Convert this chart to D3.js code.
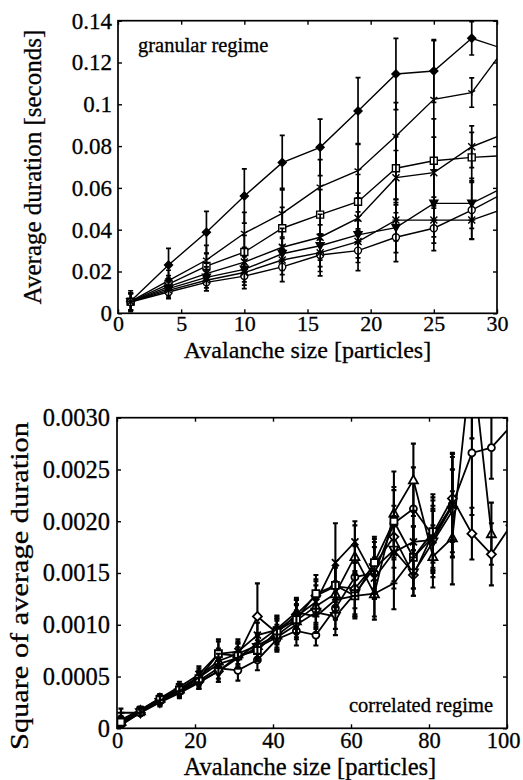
<!DOCTYPE html>
<html>
<head>
<meta charset="utf-8">
<script src="https://cdn.jsdelivr.net/npm/d3@7"></script>
<style>
body { margin:0; background:#fff; }
text { font-family:"Liberation Serif","Times New Roman",serif; fill:#000; stroke:#000; stroke-width:0.3px; }
</style>
</head>
<body>
<div id="vis"></div>
<script>
// ---- top panel: granular regime ----
var sizesTop   = [1,4,7,10,13,16,19,22,25,28,31];
var durDiamond = [0.0058,0.0231,0.0388,0.0561,0.0721,0.0794,0.0968,0.1145,0.1159,0.1316,0.1256];
var durWye     = [0.0057,0.0156,0.0255,0.0383,0.0478,0.0605,0.0682,0.0848,0.1024,0.1056,0.1300];
var durSquare  = [0.0056,0.0140,0.0226,0.0293,0.0407,0.0472,0.0534,0.0694,0.0730,0.0746,0.0756];
var durCross   = [0.0055,0.0128,0.0190,0.0245,0.0316,0.0364,0.0455,0.0649,0.0673,0.0797,0.0869];
var durTriDown = [0.0055,0.0118,0.0172,0.0210,0.0285,0.0323,0.0375,0.0410,0.0526,0.0526,0.0617];
var durCircle  = [0.0054,0.0102,0.0148,0.0178,0.0222,0.0279,0.0300,0.0364,0.0407,0.0494,0.0590];
var durStar    = [0.0055,0.0110,0.0158,0.0195,0.0255,0.0290,0.0343,0.0446,0.0446,0.0446,0.0510];

var errDiamond = [0.005,0.008,0.010,0.013,0.013,0.0135,0.016,0.017,0.015,0.008,0.008];
var errWye     = [0.004,0.005,0.007,0.010,0.012,0.013,0.013,0.016,0.028,0.007,0.008];
var errSquare  = [0.004,0.004,0.006,0.008,0.010,0.012,0.013,0.015,0.020,0.012,0.012];
var errCross   = [0.004,0.004,0.005,0.007,0.009,0.011,0.012,0.013,0.017,0.010,0.010];
var errTriDown = [0.004,0.004,0.005,0.006,0.008,0.010,0.011,0.012,0.016,0.012,0.012];
var errCircle  = [0.004,0.003,0.004,0.006,0.007,0.010,0.0096,0.0117,0.0107,0.014,0.012];
var errStar    = [0.004,0.004,0.005,0.006,0.007,0.009,0.010,0.010,0.011,0.009,0.010];

var topXTicks  = [0,5,10,15,20,25,30];
var topYTicks  = [0,0.02,0.04,0.06,0.08,0.1,0.12,0.14];
var topYLabels = ["0","0.02","0.04","0.06","0.08","0.1","0.12","0.14"];

// ---- bottom panel: correlated regime ----
var sizesBot  = [1,6,11,16,21,26,31,36,41,46,51,56,61,66,71,76,81,86,91,96,101];
var sqCircle  = [0.00005,0.00016,0.00027,0.00036,0.00046,0.00058,0.00056,0.00066,0.00086,0.00094,0.00090,0.00116,0.00146,0.00150,0.00198,0.00212,0.00186,0.00216,0.00266,0.00271,0.00292];
var sqTriUp   = [0.00007,0.00017,0.00029,0.00038,0.00050,0.00065,0.00072,0.00080,0.00090,0.00104,0.00118,0.00130,0.00166,0.00130,0.00208,0.00240,0.00166,0.00184,0.00360,0.00188,null];
var sqDiamond = [0.00003,0.00015,0.00026,0.00035,0.00045,0.00055,0.00070,0.00108,0.00092,0.00110,0.00128,0.00137,0.00135,0.00158,0.00185,0.00148,0.00188,0.00222,0.00188,0.00168,0.00196];
var sqTriDown = [0.00004,0.00015,0.00025,0.00034,0.00044,0.00055,0.00068,0.00078,0.00088,0.00100,0.00112,0.00108,0.00130,0.00155,0.00172,0.00150,0.00180,0.00210,null,null,null];
var sqCross   = [0.00008,0.00018,0.00029,0.00040,0.00052,0.00072,0.00074,0.00090,0.00095,0.00108,0.00122,0.00160,0.00180,0.00145,0.00170,0.00180,0.00182,0.00215,null,null,null];
var sqSquare  = [0.00006,0.00016,0.00028,0.00037,0.00048,0.00072,0.00070,0.00075,0.00094,0.00105,0.00130,0.00138,0.00128,0.00160,0.00200,0.00165,0.00190,null,null,null,null];
var sqPlus    = [0.00015,0.00015,0.00027,0.00036,0.00049,0.00062,0.00068,0.00082,0.00096,0.00112,0.00108,0.00124,0.00128,0.00130,0.00140,0.00165,0.00185,0.00215,null,null,null];

var eCircle  = [0.00004,0.00003,0.00004,0.00005,0.00007,0.00010,0.00010,0.00010,0.00012,0.00014,0.00010,0.00020,0.00030,0.00025,0.00035,0.00040,0.00040,0.00050,0.00060,0.00030,0.00040];
var eTriUp   = [0.00004,0.00003,0.00004,0.00005,0.00008,0.00012,0.00012,0.00012,0.00014,0.00016,0.00020,0.00025,0.00030,0.00025,0.00040,0.00035,0.00030,0.00045,0.00080,0.00030,null];
var eDiamond = [0.00004,0.00003,0.00004,0.00005,0.00007,0.00010,0.00012,0.00032,0.00014,0.00014,0.00016,0.00020,0.00025,0.00025,0.00030,0.00020,0.00035,0.00040,0.00025,0.00030,0.00030];
var eTriDown = [0.00003,0.00003,0.00004,0.00005,0.00006,0.00010,0.00010,0.00012,0.00012,0.00014,0.00016,0.00018,0.00022,0.00025,0.00030,0.00022,0.00030,0.00040,null,null,null];
var eCross   = [0.00004,0.00003,0.00004,0.00005,0.00008,0.00014,0.00012,0.00012,0.00014,0.00016,0.00020,0.00038,0.00020,0.00020,0.00035,0.00030,0.00030,0.00050,null,null,null];
var eSquare  = [0.00004,0.00003,0.00004,0.00005,0.00007,0.00012,0.00012,0.00010,0.00012,0.00014,0.00018,0.00020,0.00022,0.00025,0.00030,0.00030,0.00030,null,null,null,null];
var ePlus    = [0.00004,0.00003,0.00004,0.00005,0.00007,0.00010,0.00010,0.00010,0.00012,0.00014,0.00016,0.00018,0.00020,0.00022,0.00025,0.00030,0.00030,0.00035,null,null,null];

var botXTicks  = [0,20,40,60,80,100];
var botYTicks  = [0,0.0005,0.001,0.0015,0.002,0.0025,0.003];
var botYLabels = ["0","0.0005","0.0010","0.0015","0.0020","0.0025","0.0030"];

var svg = d3.select("#vis").append("svg")
  .attr("width", 523)
  .attr("height", 780);

// marker shapes, s = half size
function markPath(type, s){
  switch(type){
    case 'circle':  return "M"+(-s)+",0A"+s+","+s+" 0 1,0 "+s+",0A"+s+","+s+" 0 1,0 "+(-s)+",0Z";
    case 'square':  return "M"+(-s)+","+(-s)+"H"+s+"V"+s+"H"+(-s)+"Z";
    case 'diamond': return "M0,"+(-s)+"L"+s+",0L0,"+s+"L"+(-s)+",0Z";
    case 'triUp':   return "M0,"+(-s)+"L"+s+","+(s*0.8)+"L"+(-s)+","+(s*0.8)+"Z";
    case 'triDown': return "M0,"+s+"L"+s+","+(-s*0.8)+"L"+(-s)+","+(-s*0.8)+"Z";
    case 'cross':   return "M"+(-s)+","+(-s)+"L"+s+","+s+"M"+(-s)+","+s+"L"+s+","+(-s);
    case 'plus':    return "M"+(-s)+",0H"+s+"M0,"+(-s)+"V"+s;
    case 'star':    return "M"+(-s)+","+(-s)+"L"+s+","+s+"M"+(-s)+","+s+"L"+s+","+(-s)+"M"+(-s)+",0H"+s;
    case 'wye':     return "M0,0V"+s+"M0,0L"+(-s)+","+(-s*0.6)+"M0,0L"+s+","+(-s*0.6);
  }
}

function panel(o){
  var x = d3.scaleLinear().domain(o.xDom).range([o.l, o.r]);
  var y = d3.scaleLinear().domain(o.yDom).range([o.b, o.t]);
  var g = svg.append("g");

  g.append("clipPath").attr("id", "clip" + o.id)
    .append("rect").attr("x", o.l).attr("y", o.t).attr("width", o.r - o.l).attr("height", o.b - o.t);

  // axes with inward ticks on all four sides
  var ax = g.append("g").attr("transform", "translate(0," + o.b + ")")
    .call(d3.axisBottom(x).tickValues(o.xTicks).tickFormat(function(d){ return d; })
      .tickSizeInner(-4).tickSizeOuter(0).tickPadding(o.xPad));
  ax.selectAll("text").attr("font-size", o.xfs);
  var ay = g.append("g").attr("transform", "translate(" + o.l + ",0)")
    .call(d3.axisLeft(y).tickValues(o.yTicks).tickFormat(function(d, i){ return o.yLabels[i]; })
      .tickSizeInner(-4).tickSizeOuter(0).tickPadding(o.yPad));
  ay.selectAll("text").attr("font-size", o.yfs);
  g.append("g").attr("transform", "translate(0," + o.t + ")")
    .call(d3.axisTop(x).tickValues(o.xTicks).tickFormat("").tickSizeInner(-4).tickSizeOuter(0));
  g.append("g").attr("transform", "translate(" + o.r + ",0)")
    .call(d3.axisRight(y).tickValues(o.yTicks).tickFormat("").tickSizeInner(-4).tickSizeOuter(0));
  g.selectAll(".domain").remove();
  g.selectAll(".tick line").attr("stroke", "#000").attr("stroke-width", 1.4);
  g.selectAll(".tick text").style("font-family", '"Liberation Serif","Times New Roman",serif');

  var plot = g.append("g").attr("clip-path", "url(#clip" + o.id + ")");
  var line = d3.line()
    .defined(function(d){ return d.v != null; })
    .x(function(d){ return x(d.x); })
    .y(function(d){ return y(d.v); });

  o.series.forEach(function(s){
    var pts = o.xs.map(function(xv, i){ return {x: xv, v: s.v[i], e: s.e[i]}; });
    plot.append("path").attr("d", line(pts))
      .attr("fill", "none").attr("stroke", "#000").attr("stroke-width", o.lw);
    var ok = pts.filter(function(d){ return d.v != null; });
    plot.selectAll(null).data(ok).enter().append("path")
      .attr("transform", function(d){ return "translate(" + x(d.x) + ",0)"; })
      .attr("d", function(d){
        var y0 = y(d.v - d.e), y1 = y(d.v + d.e);
        return "M0," + y0 + "V" + y1 + "M-2.5," + y0 + "H2.5M-2.5," + y1 + "H2.5";
      })
      .attr("stroke", "#000").attr("stroke-width", o.lw + 0.3).attr("fill", "none");
    plot.selectAll(null).data(ok).enter().append("path")
      .attr("transform", function(d){ return "translate(" + x(d.x) + "," + y(d.v) + ")"; })
      .attr("d", markPath(s.m, s.size || 3.5))
      .attr("fill", s.fill ? "#000" : "#fff")
      .attr("stroke", "#000").attr("stroke-width", o.lw);
  });

  g.append("rect").attr("x", o.l).attr("y", o.t)
    .attr("width", o.r - o.l).attr("height", o.b - o.t)
    .attr("fill", "none").attr("stroke", "#000").attr("stroke-width", 1.7);
  return {x: x, y: y, g: g, ax: ax};
}

var p1 = panel({
  id: "top", l: 118, r: 497, t: 20.7, b: 313.3,
  xDom: [0, 30], yDom: [0, 0.14], xTicks: topXTicks, yTicks: topYTicks, yLabels: topYLabels,
  xfs: 22, yfs: 23, xPad: 2, yPad: 6, lw: 1.4, xs: sizesTop,
  series: [
    {v: durDiamond, e: errDiamond, m: 'diamond', fill: true, size: 4},
    {v: durWye,     e: errWye,     m: 'wye'},
    {v: durSquare,  e: errSquare,  m: 'square'},
    {v: durCross,   e: errCross,   m: 'cross'},
    {v: durTriDown, e: errTriDown, m: 'triDown', fill: true, size: 4},
    {v: durCircle,  e: errCircle,  m: 'circle'},
    {v: durStar,    e: errStar,    m: 'star'}
  ]
});
p1.g.append("text").attr("x", 138).attr("y", 52).attr("font-size", 20.5).text("granular regime");
p1.g.append("text").attr("x", 307.5).attr("y", 358).attr("text-anchor", "middle")
  .attr("font-size", 24).text("Avalanche size [particles]");
p1.g.append("text").attr("transform", "translate(41,167) rotate(-90)").attr("text-anchor", "middle")
  .attr("font-size", 25).text("Average duration [seconds]");

var p2 = panel({
  id: "bot", l: 117, r: 507, t: 417.7, b: 728.3,
  xDom: [0, 100], yDom: [0, 0.003], xTicks: botXTicks, yTicks: botYTicks, yLabels: botYLabels,
  xfs: 22.5, yfs: 24.5, xPad: 4, yPad: 7, lw: 1.8, xs: sizesBot,
  series: [
    {v: sqCircle,  e: eCircle,  m: 'circle'},
    {v: sqTriUp,   e: eTriUp,   m: 'triUp', size: 4.5},
    {v: sqDiamond, e: eDiamond, m: 'diamond', size: 4.5},
    {v: sqTriDown, e: eTriDown, m: 'triDown', size: 4.5},
    {v: sqCross,   e: eCross,   m: 'cross'},
    {v: sqSquare,  e: eSquare,  m: 'square'},
    {v: sqPlus,    e: ePlus,    m: 'plus'}
  ]
});
// last x label sits slightly left so it stays inside the page
p2.ax.selectAll(".tick text").filter(function(d){ return d === 100; }).attr("dx", -4);
p2.g.append("text").attr("x", 493).attr("y", 712).attr("text-anchor", "end")
  .attr("font-size", 20.5).text("correlated regime");
p2.g.append("text").attr("x", 310).attr("y", 775).attr("text-anchor", "middle")
  .attr("font-size", 24.5).text("Avalanche size [particles]");
p2.g.append("text").attr("transform", "translate(28,586) rotate(-90)").attr("text-anchor", "middle")
  .attr("font-size", 25).attr("textLength", 328).attr("lengthAdjust", "spacingAndGlyphs")
  .text("Square of average duration");
</script>
</body>
</html>
